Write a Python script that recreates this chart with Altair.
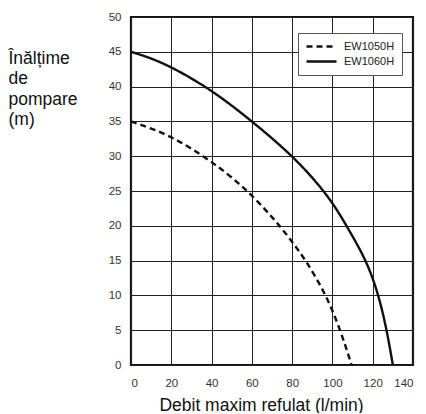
import altair as alt
import pandas as pd

x_1060 = [0, 10, 20, 30, 40, 50, 60, 70, 80, 90, 100, 107, 117, 123, 127, 130]
y_1060 = [45, 44.1, 42.8, 41.2, 39.4, 37.3, 35, 32.6, 30, 27, 23.4, 20, 15, 10, 5, 0]
x_1050 = [0, 10, 20, 30, 40, 50, 60, 70, 78, 87, 97, 104, 109.5]
y_1050 = [35, 34, 32.8, 31.1, 29.2, 27, 24.4, 21.3, 18.5, 15, 10, 5, 0]
series = ["EW1050H", "EW1060H"]
x_ticks = [0, 20, 40, 60, 80, 100, 120, 140]
y_ticks = [0, 5, 10, 15, 20, 25, 30, 35, 40, 45, 50]

rows = [{"x": a, "y": b, "s": series[0]} for a, b in zip(x_1050, y_1050)]
rows += [{"x": a, "y": b, "s": series[1]} for a, b in zip(x_1060, y_1060)]
df = pd.DataFrame(rows)

FONT = "Liberation Sans"

chart = alt.Chart(df).mark_line(interpolate="basis", strokeWidth=2.4, color="#111").encode(
    x=alt.X("x:Q", scale=alt.Scale(domain=[0, 140], nice=False),
            axis=alt.Axis(values=x_ticks, title="Debit maxim refulat (l/min)",
                          titleX=130, titleY=45, titleAlign="center", titleBaseline="alphabetic",
                          titleFontSize=17.5, titleFontWeight="normal", titleFont=FONT, titleColor="#111",
                          labelFont=FONT, labelFontSize=11.5, labelColor="#333", labelPadding=12,
                          ticks=False, domain=False, gridColor="#222", gridWidth=1, gridOpacity=1)),
    y=alt.Y("y:Q", scale=alt.Scale(domain=[0, 50], nice=False),
            axis=alt.Axis(values=y_ticks, title=["Înălțime", "de", "pompare", "(m)"],
                          titleAngle=0, titleX=-123, titleY=46, titleAlign="left", titleBaseline="alphabetic",
                          titleLineHeight=20.5,
                          titleFontSize=17.5, titleFontWeight="normal", titleFont=FONT, titleColor="#111",
                          labelFont=FONT, labelFontSize=11.5, labelColor="#333", labelPadding=10,
                          ticks=False, domain=False, gridColor="#222", gridWidth=1, gridOpacity=1)),
    strokeDash=alt.StrokeDash("s:N", scale=alt.Scale(domain=series, range=[[6, 4], [1, 0]]),
                              legend=alt.Legend(title=None, orient="none", legendX=167, legendY=16,
                                                fillColor="white", strokeColor="#555", padding=7,
                                                symbolType="stroke", symbolSize=900, symbolStrokeWidth=2.4,
                                                symbolStrokeColor="#111", clipHeight=13,
                                                labelFont=FONT, labelFontSize=11,
                                                labelColor="#222", labelOffset=6, rowPadding=2)),
).properties(
    width=282, height=348,
    autosize=alt.AutoSizeParams(type="none"),
    padding={"left": 123, "top": 9, "right": 5, "bottom": 48},
).configure_view(stroke="#111", strokeWidth=2.2)

chart.save("out.html", embed_options={"renderer": "svg", "actions": False})
